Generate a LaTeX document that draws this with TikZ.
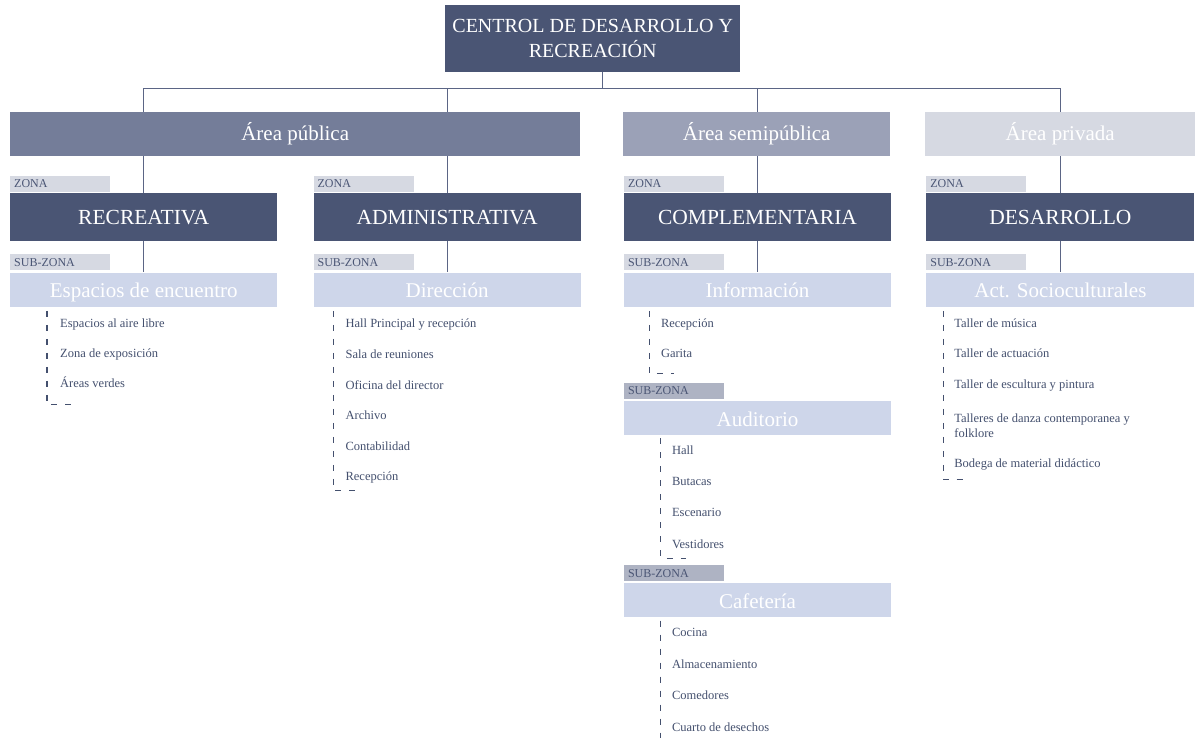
\documentclass[tikz,border=0pt]{standalone}
\usepackage{fontspec}
\setmainfont{Liberation Serif}
\usetikzlibrary{positioning, backgrounds}

\definecolor{navy}{HTML}{4A5574}
\definecolor{pubfill}{HTML}{747D99}
\definecolor{semifill}{HTML}{9BA1B7}
\definecolor{privfill}{HTML}{D6D9E2}
\definecolor{taglight}{HTML}{D6D9E2}
\definecolor{tagdark}{HTML}{AEB3C3}
\definecolor{subfill}{HTML}{CED6EA}
\definecolor{linecol}{HTML}{5B6585}
\definecolor{itemtext}{HTML}{44506E}

\begin{document}
\begin{tikzpicture}[
    x=1pt, y=-1pt,
    box/.style={rectangle, inner sep=0pt, text=white, font=\fontsize{21}{25}\selectfont},
    titlebox/.style={box, fill=navy, minimum width=295pt, minimum height=67pt, align=center, font=\fontsize{20}{25}\selectfont},
    areabox/.style={box, minimum height=44pt},
    zonebox/.style={box, fill=navy, minimum width=267pt, minimum height=48pt, font=\fontsize{21.5}{25}\selectfont},
    subbox/.style={box, fill=subfill, minimum width=267pt, minimum height=34pt, text height=17pt, text depth=1pt},
    tag/.style={rectangle, fill=taglight, text=navy, font=\fontsize{12}{14}\selectfont, text width=92pt, inner xsep=4pt, inner ysep=0pt, minimum height=16pt, text height=8.5pt, align=left},
    item/.style={inner sep=0pt, text=itemtext, font=\fontsize{12.5}{15.5}\selectfont, text height=9pt, text depth=3pt},
    link/.style={draw=linecol, line width=1.2pt},
    bracket/.style={draw=itemtext, line width=1.2pt, dash pattern=on 6pt off 8pt}
]
\useasboundingbox (0,0) rectangle (1195,737);

% Top: centre and areas
\node[titlebox, anchor=north west] (centro) at (445,5) {CENTROL DE DESARROLLO Y\\RECREACIÓN};
\node[areabox, fill=pubfill, minimum width=570pt, anchor=north west] (pub) at (10,112) {Área pública};
\node[areabox, fill=semifill, minimum width=267pt, anchor=north west] (semi) at (623,112) {Área semipública};
\node[areabox, fill=privfill, minimum width=270pt, anchor=north west] (priv) at (925,112) {Área privada};

% Zones
\node[zonebox, anchor=north west] (recr) at (10,193) {RECREATIVA};
\node[zonebox, right=36pt of recr] (admin) {ADMINISTRATIVA};
\node[zonebox, right=43pt of admin] (comp) {COMPLEMENTARIA};
\node[zonebox, right=35pt of comp, minimum width=268pt] (des) {DESARROLLO};
\node[tag, above=1pt of recr.north west, anchor=south west] (zrecr) {ZONA};
\node[tag, above=1pt of admin.north west, anchor=south west] (zadmin) {ZONA};
\node[tag, above=1pt of comp.north west, anchor=south west] (zcomp) {ZONA};
\node[tag, above=1pt of des.north west, anchor=south west] (zdes) {ZONA};

% Sub-zones
\node[subbox, below=31pt of recr] (esp) {Espacios de encuentro};
\node[subbox, below=31pt of admin] (dir) {Dirección};
\node[subbox, below=31pt of comp] (inf) {Información};
\node[subbox, below=31pt of des, minimum width=268pt] (act) {Act. Socioculturales};
\node[subbox, below=94pt of inf] (aud) {Auditorio};
\node[subbox, below=148pt of aud] (caf) {Cafetería};
\node[tag, above=2pt of esp.north west, anchor=south west] (sesp) {SUB-ZONA};
\node[tag, above=2pt of dir.north west, anchor=south west] (sdir) {SUB-ZONA};
\node[tag, above=2pt of inf.north west, anchor=south west] (sinf) {SUB-ZONA};
\node[tag, above=2pt of act.north west, anchor=south west] (sact) {SUB-ZONA};
\node[tag, fill=tagdark, above=2pt of aud.north west, anchor=south west] (saud) {SUB-ZONA};
\node[tag, fill=tagdark, above=2pt of caf.north west, anchor=south west] (scaf) {SUB-ZONA};

% Espacios de encuentro
\node[item, below=18pt of esp.south west, anchor=west, xshift=50pt] (e1) {Espacios al aire libre};
\node[item, below=30pt of e1.west, anchor=west] (e2) {Zona de exposición};
\node[item, below=30pt of e2.west, anchor=west] (e3) {Áreas verdes};

% Direccion
\node[item, below=18pt of dir.south west, anchor=west, xshift=32pt] (d1) {Hall Principal y recepción};
\node[item, below=30.6pt of d1.west, anchor=west] (d2) {Sala de reuniones};
\node[item, below=30.6pt of d2.west, anchor=west] (d3) {Oficina del director};
\node[item, below=30.6pt of d3.west, anchor=west] (d4) {Archivo};
\node[item, below=30.6pt of d4.west, anchor=west] (d5) {Contabilidad};
\node[item, below=30.6pt of d5.west, anchor=west] (d6) {Recepción};

% Informacion, Auditorio, Cafeteria
\node[item, below=18pt of inf.south west, anchor=west, xshift=37pt] (i1) {Recepción};
\node[item, below=30pt of i1.west, anchor=west] (i2) {Garita};
\node[item, below=16pt of aud.south west, anchor=west, xshift=48pt] (a1) {Hall};
\node[item, below=31.3pt of a1.west, anchor=west] (a2) {Butacas};
\node[item, below=31.3pt of a2.west, anchor=west] (a3) {Escenario};
\node[item, below=31.3pt of a3.west, anchor=west] (a4) {Vestidores};
\node[item, below=16pt of caf.south west, anchor=west, xshift=48pt] (c1) {Cocina};
\node[item, below=31.6pt of c1.west, anchor=west] (c2) {Almacenamiento};
\node[item, below=31.6pt of c2.west, anchor=west] (c3) {Comedores};
\node[item, below=31.6pt of c3.west, anchor=west] (c4) {Cuarto de desechos};

% Act. Socioculturales
\node[item, below=18pt of act.south west, anchor=west, xshift=28pt] (s1) {Taller de música};
\node[item, below=30pt of s1.west, anchor=west] (s2) {Taller de actuación};
\node[item, below=31pt of s2.west, anchor=west] (s3) {Taller de escultura y pintura};
\node[item, below=40pt of s3.west, anchor=west, align=left, text height=, text depth=] (s4) {Talleres de danza contemporanea y\\folklore};
\node[item, below=38.5pt of s4.west, anchor=west] (s5) {Bodega de material didáctico};

% Dashed brackets
\draw[bracket] ([xshift=-13pt,yshift=-4pt]e1.west |- esp.south) |- ([xshift=12pt,yshift=-20pt]e3.west);
\draw[bracket] ([xshift=-12pt,yshift=-4pt]d1.west |- dir.south) |- ([xshift=13pt,yshift=-13pt]d6.west);
\draw[bracket] ([xshift=-11pt,yshift=-4pt]i1.west |- inf.south) |- ([xshift=13pt,yshift=-19pt]i2.west);
\draw[bracket] ([xshift=-11pt,yshift=-3pt]a1.west |- aud.south) |- ([xshift=14pt,yshift=-13pt]a4.west);
\draw[bracket] ([xshift=-11pt,yshift=-3pt]c1.west |- caf.south) -- ([xshift=-11pt,yshift=-12pt]c4.west);
\draw[bracket] ([xshift=-11pt,yshift=-4pt]s1.west |- act.south) |- ([xshift=13pt,yshift=-15pt]s5.west);

% Tree connectors
\begin{scope}[on background layer]
\draw[link] ([xshift=10pt]centro.south) -- ++(0,16) coordinate (bus);
\draw[link] (recr.north |- bus) -- (des.north |- bus);
\draw[link] (recr.north |- bus) -- (recr.north);
\draw[link] (admin.north |- bus) -- (admin.north);
\draw[link] (comp.north |- bus) -- (comp.north);
\draw[link] (des.north |- bus) -- (des.north);
\draw[link] (recr.south) -- (esp.north);
\draw[link] (admin.south) -- (dir.north);
\draw[link] (comp.south) -- (inf.north);
\draw[link] (des.south) -- (act.north);
\end{scope}

\end{tikzpicture}
\end{document}
